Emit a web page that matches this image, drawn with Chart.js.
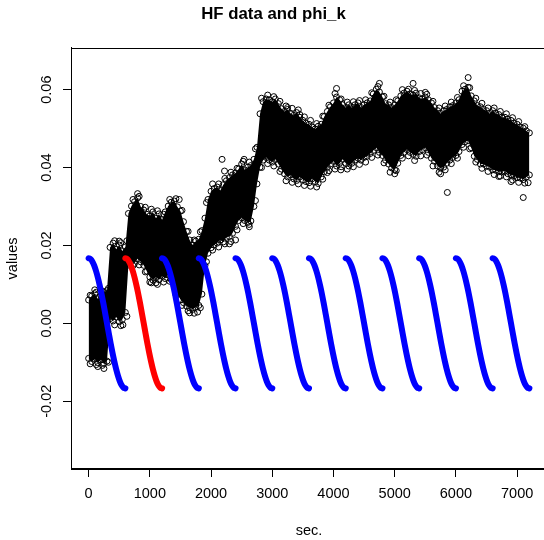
<!DOCTYPE html>
<html><head><meta charset="utf-8">
<script src="https://cdn.jsdelivr.net/npm/chart.js@4.4.1/dist/chart.umd.min.js"></script>
<style>html,body{margin:0;padding:0;background:#fff;overflow:hidden}#wrap{width:544px;height:540px;overflow:hidden}</style>
</head><body><div id="wrap"><canvas id="c" width="552" height="540"></canvas></div>
<script>
const titleText = 'HF data and phi_k';
const xTitle = 'sec.';
const yTitle = 'values';
const xTicks = [0,1000,2000,3000,4000,5000,6000,7000];
const xTickLabels = ['0','1000','2000','3000','4000','5000','6000','7000'];
const yTicks = [-0.02,0,0.02,0.04,0.06];
const yTickLabels = ['-0.02','0.00','0.02','0.04','0.06'];

// HF data cloud: sample times and upper / lower edges of the dense band
const hfSec = [0,50,100,150,200,250,300,350,400,450,500,550,600,650,700,750,800,850,900,950,
1000,1050,1100,1150,1200,1250,1300,1350,1400,1450,1500,1550,1600,1650,1700,1750,1800,1850,1900,1950,
2000,2050,2100,2150,2200,2250,2300,2350,2400,2450,2500,2550,2600,2650,2700,2750,2800,2850,2900,2950,
3000,3050,3100,3150,3200,3250,3300,3350,3400,3450,3500,3550,3600,3650,3700,3750,3800,3850,3900,3950,
4000,4050,4100,4150,4200,4250,4300,4350,4400,4450,4500,4550,4600,4650,4700,4750,4800,4850,4900,4950,
5000,5050,5100,5150,5200,5250,5300,5350,5400,5450,5500,5550,5600,5650,5700,5750,5800,5850,5900,5950,
6000,6050,6100,6150,6200,6250,6300,6350,6400,6450,6500,6550,6600,6650,6700,6750,6800,6850,6900,6950,
7000,7050,7100,7150,7200];
const hfTop = [0.0060,0.0070,0.0076,0.0063,0.0071,0.0079,0.0084,0.0195,0.0206,0.0190,0.0201,0.0186,0.0196,0.0282,0.0301,0.0312,0.0322,0.0300,0.0291,0.0280,
0.0276,0.0286,0.0270,0.0281,0.0266,0.0286,0.0301,0.0311,0.0314,0.0299,0.0288,0.0261,0.0236,0.0214,0.0201,0.0211,0.0216,0.0238,0.0270,0.0318,
0.0339,0.0346,0.0350,0.0341,0.0356,0.0366,0.0374,0.0381,0.0386,0.0396,0.0409,0.0394,0.0401,0.0405,0.0421,0.0452,0.0538,0.0569,0.0576,0.0574,
0.0569,0.0576,0.0564,0.0551,0.0544,0.0549,0.0539,0.0534,0.0541,0.0529,0.0521,0.0514,0.0511,0.0504,0.0499,0.0506,0.0511,0.0531,0.0544,0.0556,
0.0566,0.0581,0.0574,0.0561,0.0554,0.0561,0.0554,0.0561,0.0566,0.0554,0.0561,0.0566,0.0571,0.0589,0.0601,0.0594,0.0581,0.0564,0.0561,0.0554,
0.0561,0.0571,0.0584,0.0591,0.0596,0.0589,0.0586,0.0591,0.0579,0.0576,0.0581,0.0574,0.0566,0.0554,0.0546,0.0539,0.0546,0.0549,0.0556,0.0559,
0.0566,0.0574,0.0596,0.0601,0.0606,0.0584,0.0571,0.0559,0.0556,0.0549,0.0546,0.0539,0.0546,0.0539,0.0536,0.0529,0.0529,0.0524,0.0521,0.0514,
0.0511,0.0504,0.0501,0.0494,0.0489];
const hfBottom = [-0.0090,-0.0098,-0.0092,-0.0101,-0.0094,-0.0103,-0.0097,0.0012,0.0006,0.0016,0.0004,0.0010,0.0028,0.0150,0.0160,0.0154,0.0166,0.0158,0.0149,0.0134,
0.0119,0.0111,0.0118,0.0112,0.0121,0.0115,0.0124,0.0112,0.0094,0.0076,0.0061,0.0053,0.0044,0.0040,0.0036,0.0041,0.0046,0.0075,0.0148,0.0180,
0.0194,0.0201,0.0206,0.0214,0.0209,0.0221,0.0223,0.0231,0.0249,0.0264,0.0271,0.0264,0.0259,0.0263,0.0300,0.0358,0.0401,0.0419,0.0426,0.0419,
0.0414,0.0421,0.0409,0.0396,0.0384,0.0376,0.0381,0.0371,0.0367,0.0376,0.0369,0.0364,0.0361,0.0371,0.0364,0.0359,0.0376,0.0389,0.0401,0.0409,
0.0416,0.0404,0.0411,0.0421,0.0411,0.0404,0.0411,0.0419,0.0424,0.0419,0.0426,0.0429,0.0436,0.0444,0.0451,0.0439,0.0431,0.0419,0.0409,0.0399,
0.0394,0.0411,0.0431,0.0439,0.0446,0.0439,0.0434,0.0429,0.0441,0.0446,0.0451,0.0439,0.0424,0.0416,0.0404,0.0399,0.0401,0.0411,0.0419,0.0426,
0.0431,0.0441,0.0459,0.0466,0.0469,0.0451,0.0429,0.0421,0.0409,0.0409,0.0404,0.0401,0.0394,0.0393,0.0389,0.0389,0.0391,0.0384,0.0381,0.0379,
0.0374,0.0373,0.0369,0.0376,0.0381];
// loose points just outside the band edges
const edgeSec = [25,125,225,325,425,525,625,725,825,925,1025,1125,1225,1325,1425,1525,1625,1725,1825,1925,
2025,2125,2225,2325,2425,2525,2625,2725,2825,2925,3025,3125,3225,3325,3425,3525,3625,3725,3825,3925,
4025,4125,4225,4325,4425,4525,4625,4725,4825,4925,5025,5125,5225,5325,5425,5525,5625,5725,5825,5925,
6025,6125,6225,6325,6425,6525,6625,6725,6825,6925,7025,7125];
const edgeTop = [0.0072,0.0080,0.0083,0.0090,0.0212,0.0207,0.0212,0.0318,0.0326,0.0298,0.0293,0.0289,0.0280,0.0318,0.0320,0.0290,0.0236,0.0214,0.0235,0.0310,
0.0358,0.0358,0.0372,0.0388,0.0398,0.0416,0.0414,0.0448,0.0578,0.0586,0.0582,0.0570,0.0558,0.0552,0.0548,0.0530,0.0521,0.0513,0.0532,0.0560,
0.0590,0.0576,0.0568,0.0569,0.0572,0.0574,0.0592,0.0608,0.0583,0.0568,0.0574,0.0600,0.0601,0.0598,0.0590,0.0588,0.0570,0.0553,0.0558,0.0568,
0.0580,0.0610,0.0605,0.0578,0.0565,0.0553,0.0553,0.0544,0.0538,0.0528,0.0518,0.0505];
const edgeBottom = [-0.0104,-0.0106,-0.0108,-0.0100,-0.0004,-0.0006,0.0018,0.0148,0.0150,0.0132,0.0104,0.0100,0.0106,0.0108,0.0074,0.0046,0.0032,0.0026,0.0040,0.0158,
0.0188,0.0196,0.0204,0.0210,0.0240,0.0256,0.0248,0.0315,0.0400,0.0410,0.0404,0.0390,0.0366,0.0362,0.0358,0.0354,0.0352,0.0350,0.0370,0.0392,
0.0396,0.0402,0.0396,0.0402,0.0408,0.0414,0.0426,0.0432,0.0412,0.0388,0.0392,0.0424,0.0430,0.0418,0.0430,0.0432,0.0404,0.0388,0.0394,0.0410,
0.0424,0.0452,0.0448,0.0414,0.0398,0.0390,0.0382,0.0378,0.0376,0.0368,0.0362,0.0360];
// scattered points further outside the band
const outlierSec = [100,150,250,500,560,800,1000,1100,1480,1650,1780,2180,2220,2300,2400,2540,2620,3250,3450,3900,4050,4120,4750,5000,5300,5500,5750,5860,6200,6700,6900,7100,7180];
const outlierVal = [0.0086,-0.0111,-0.0116,0.0211,-0.0004,0.0333,0.0106,0.0104,0.0318,0.0027,0.0029,0.0421,0.0391,0.0204,0.0214,0.0421,0.0254,0.0554,0.0536,0.0387,0.0603,0.0394,0.0616,0.0384,0.0616,0.0593,0.0384,0.0336,0.0631,0.0377,0.0364,0.0323,0.0361];

// phi_k basis curve, sampled across one 600 s window
const phiOffsets = [0,30,60,90,120,150,180,210,240,270,300,330,360,390,420,450,480,510,540,570,600];
const phiShape = [0.0167,0.0165,0.0159,0.0149,0.0135,0.0118,0.0098,0.0076,0.0052,0.0026,0,-0.0026,-0.0052,-0.0076,-0.0098,-0.0118,-0.0135,-0.0149,-0.0159,-0.0165,-0.0167];
const segmentStarts = [0,600,1200,1800,2400,3000,3600,4200,4800,5400,6000,6600];
const segmentColors = ['#0000FF','#FF0000','#0000FF','#0000FF','#0000FF','#0000FF','#0000FF','#0000FF','#0000FF','#0000FF','#0000FF','#0000FF'];

const FONT = '"Liberation Sans", Arial, sans-serif';
Chart.defaults.font.family = FONT;
Chart.defaults.color = '#000';

const circle = {pointRadius: 3, pointBorderWidth: 1, pointBorderColor: '#000', pointBackgroundColor: 'rgba(0,0,0,0)'};
const datasets = [];
segmentStarts.forEach((s, k) => {
  datasets.push({
    data: phiOffsets.map((o, i) => ({x: s + o, y: phiShape[i]})),
    borderColor: segmentColors[k], borderWidth: 6, borderCapStyle: 'round', borderJoinStyle: 'round',
    pointRadius: 0, cubicInterpolationMode: 'monotone', fill: false, order: 0
  });
});
datasets.push(Object.assign({
  data: hfSec.map((s, i) => ({x: s, y: hfTop[i]})),
  borderColor: '#000', borderWidth: 0, backgroundColor: '#000', fill: '+1', order: 10
}, circle));
datasets.push(Object.assign({
  data: hfSec.map((s, i) => ({x: s, y: hfBottom[i]})),
  borderColor: '#000', borderWidth: 0, fill: false, order: 10
}, circle));
datasets.push(Object.assign({
  data: edgeSec.map((s, i) => ({x: s, y: edgeTop[i]})), showLine: false, fill: false, order: 10
}, circle));
datasets.push(Object.assign({
  data: edgeSec.map((s, i) => ({x: s, y: edgeBottom[i]})), showLine: false, fill: false, order: 10
}, circle));
datasets.push(Object.assign({
  data: outlierSec.map((s, i) => ({x: s, y: outlierVal[i]})), showLine: false, fill: false, order: 10
}, circle));

const rFrame = {
  id: 'rFrame',
  afterDraw(chart) {
    const {ctx, chartArea: a, scales: {y}} = chart;
    ctx.save();
    ctx.strokeStyle = '#000'; ctx.lineWidth = 1;
    ctx.strokeRect(Math.round(a.left) + 0.5, Math.round(a.top) + 0.5, Math.round(a.right - a.left), Math.round(a.bottom - a.top));
    ctx.fillStyle = '#000';
    ctx.font = '14.5px ' + FONT;
    ctx.textAlign = 'center'; ctx.textBaseline = 'middle';
    yTicks.forEach((v, i) => {
      const py = y.getPixelForValue(v);
      ctx.save(); ctx.translate(47, py); ctx.rotate(-Math.PI / 2);
      ctx.fillText(yTickLabels[i], 0, 0);
      ctx.restore();
    });
    ctx.restore();
  }
};

new Chart(document.getElementById('c'), {
  type: 'line',
  data: {datasets},
  plugins: [rFrame],
  options: {
    responsive: false, animation: false, devicePixelRatio: 1,
    layout: {padding: {left: 0, right: 5, top: 0, bottom: 0}},
    plugins: {
      legend: {display: false}, tooltip: {enabled: false},
      title: {display: true, text: titleText, color: '#000', font: {size: 16.8, weight: 'bold'}, padding: {top: 4, bottom: 23.8}},
      filler: {propagate: false}
    },
    scales: {
      x: {
        type: 'linear', min: -288, max: 7488,
        afterBuildTicks(s) { s.ticks = xTicks.map(v => ({value: v})); },
        afterFit(s) { s.height = 71; },
        grid: {drawOnChartArea: false, drawTicks: true, tickLength: 8, color: '#000', lineWidth: 1},
        border: {display: true, color: '#000', width: 1},
        ticks: {color: '#000', font: {size: 14.5}, padding: 8, maxRotation: 0, minRotation: 0, autoSkip: false,
          callback: (v, i) => xTickLabels[i]},
        title: {display: true, text: xTitle, color: '#000', font: {size: 14.5}, padding: {top: 0, bottom: 0}}
      },
      y: {
        type: 'linear', min: -0.0374, max: 0.0707,
        afterBuildTicks(s) { s.ticks = yTicks.map(v => ({value: v})); },
        afterFit(s) { s.width = 71; },
        grid: {drawOnChartArea: false, drawTicks: true, tickLength: 8, color: '#000', lineWidth: 1},
        border: {display: true, color: '#000', width: 1},
        ticks: {display: false},
        title: {display: true, text: yTitle, color: '#000', font: {size: 14.5}, padding: {top: 4, bottom: 0}}
      }
    }
  }
});
</script>
</body></html>
